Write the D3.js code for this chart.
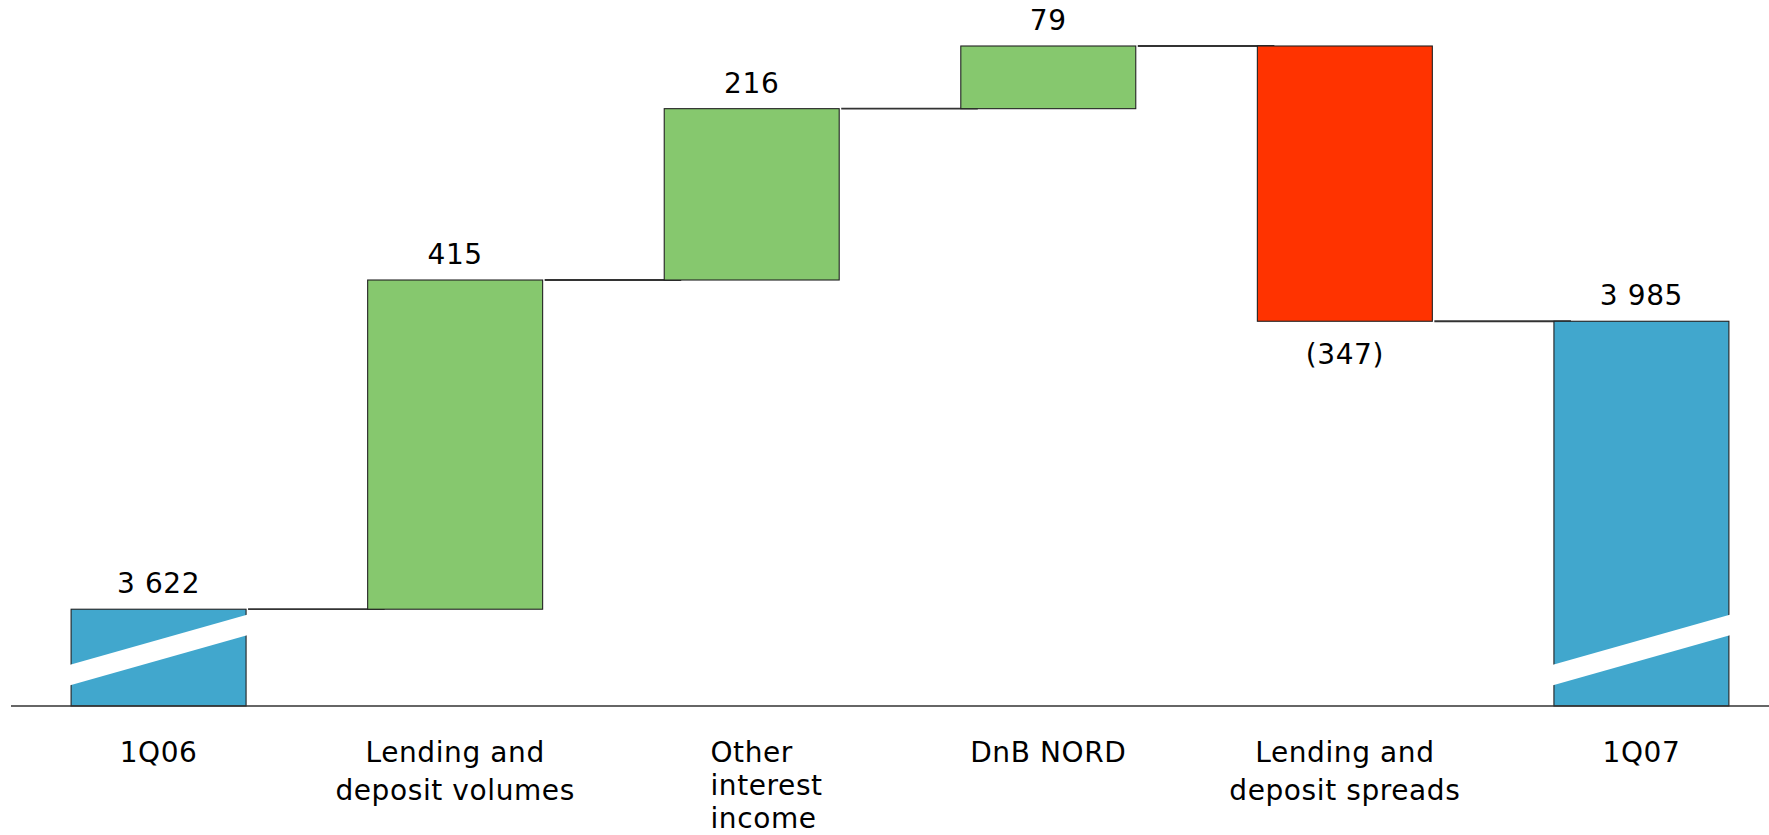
<!DOCTYPE html>
<html>
<head>
<meta charset="utf-8">
<script src="https://cdn.jsdelivr.net/npm/d3@7"></script>
<style>
  html, body { margin: 0; padding: 0; background: #ffffff; }
  svg { display: block; }
  text { font-family: "DejaVu Sans", Verdana, sans-serif; fill: #000; letter-spacing: 0.6px; }
</style>
</head>
<body>
<svg id="chart" width="1769" height="835"></svg>
<script>
// ---- data ----
const categories = ["1Q06", "Lending and deposit volumes", "Other interest income", "DnB NORD", "Lending and deposit spreads", "1Q07"];
const categoryLines = [["1Q06"], ["Lending and", "deposit volumes"], ["Other", "interest", "income"], ["DnB NORD"], ["Lending and", "deposit spreads"], ["1Q07"]];
const values = [3622, 415, 216, 79, -347, 3985];
const kinds = ["total", "delta", "delta", "delta", "delta", "total"];
const axisFloor = 3500;      // truncated (broken) value axis starts here
const axisTop = 4332;

// ---- layout ----
const W = 1769, H = 835;
const baseY = 706, topY = 46;
const svg = d3.select("#chart");

const x = d3.scaleBand().domain(categories).range([10, 1790]).paddingInner(0.41).paddingOuter(0.206);
const y = d3.scaleLinear().domain([axisFloor, axisTop]).range([baseY, topY]);

const fmt = d3.formatLocale({ decimal: ".", thousands: " ", grouping: [3], currency: ["", ""] }).format(",d");
const labelText = (v) => v < 0 ? "(" + fmt(-v) + ")" : fmt(v);

// build waterfall segments
let running = 0;
const segs = categories.map((c, i) => {
  let start, end;
  if (kinds[i] === "total") { start = axisFloor; end = values[i]; running = values[i]; }
  else { start = running; end = running + values[i]; running = end; }
  return { cat: c, i, kind: kinds[i], value: values[i], start, end, level: end };
});

const colorFor = (d) => d.kind === "total" ? "#41A7CD" : (d.value >= 0 ? "#86C86E" : "#FF3300");

// connectors
const conn = svg.append("g");
segs.slice(0, -1).forEach((d, i) => {
  const nx = segs[i + 1];
  conn.append("line")
    .attr("x1", x(d.cat) + x.bandwidth() + 2)
    .attr("x2", x(nx.cat) + 17)
    .attr("y1", y(d.level)).attr("y2", y(d.level))
    .attr("stroke", "#333").attr("stroke-width", 1.8);
});

// bars
svg.append("g").selectAll("rect").data(segs).join("rect")
  .attr("x", d => x(d.cat))
  .attr("width", x.bandwidth())
  .attr("y", d => y(Math.max(d.start, d.end)))
  .attr("height", d => Math.abs(y(d.start) - y(d.end)))
  .attr("fill", colorFor)
  .attr("stroke", "#222").attr("stroke-width", 1.1);

// axis-break stripes on the truncated total bars
svg.append("g").selectAll("line").data(segs.filter(d => d.kind === "total")).join("line")
  .attr("x1", d => x(d.cat) - 8)
  .attr("x2", d => x(d.cat) + x.bandwidth() + 8)
  .attr("y1", baseY - 29)
  .attr("y2", baseY - 83)
  .attr("stroke", "#ffffff").attr("stroke-width", 20);

// baseline axis (no ticks)
const axisG = svg.append("g").attr("transform", `translate(0,${baseY})`)
  .call(d3.axisBottom(x).tickSize(0).tickFormat(""));
axisG.select(".domain").attr("stroke", "#333").attr("stroke-width", 1.5)
  .attr("d", `M11,0H${W}`);

// value labels
svg.append("g").selectAll("text").data(segs).join("text")
  .attr("x", d => x(d.cat) + x.bandwidth() / 2)
  .attr("y", d => d.value < 0 ? y(d.end) + 43 : y(Math.max(d.start, d.end)) - 16)
  .attr("text-anchor", "middle")
  .attr("font-size", 28)
  .text(d => labelText(d.value));

// category labels
const catG = svg.append("g");
segs.forEach((d, i) => {
  const lines = categoryLines[i];
  const cx = x(d.cat) + x.bandwidth() / 2;
  const t = catG.append("text").attr("font-size", 28);
  if (lines.length > 2) {
    // block left-aligned, first line centred
    const probe = catG.append("text").attr("font-size", 28).text(lines[0]);
    const w0 = probe.node().getComputedTextLength();
    probe.remove();
    t.attr("text-anchor", "start");
    lines.forEach((ln, k) => t.append("tspan").attr("x", cx - w0 / 2).attr("y", 762 + k * 33).text(ln));
  } else {
    t.attr("text-anchor", "middle");
    lines.forEach((ln, k) => t.append("tspan").attr("x", cx).attr("y", 762 + k * 38).text(ln));
  }
});
</script>
</body>
</html>
